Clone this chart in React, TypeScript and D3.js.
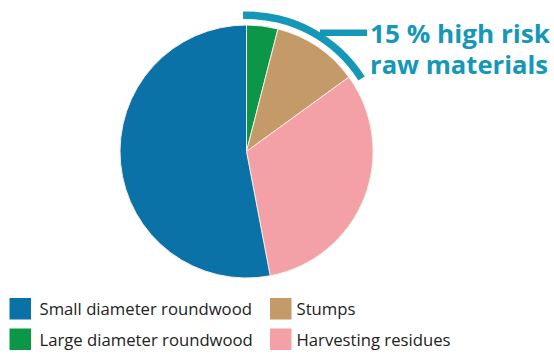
import React from "react";
import * as d3 from "d3";

const categories = ["Large diameter roundwood", "Stumps", "Harvesting residues", "Small diameter roundwood"];
const values = [4, 11, 32, 53];
const colors = ["#0b9747", "#c49a69", "#f3a0a6", "#0a72a6"];
const legendOrder = ["Small diameter roundwood", "Large diameter roundwood", "Stumps", "Harvesting residues"];
const highlightShare = 15;
const calloutLines = ["15 % high risk", "raw materials"];
const teal = "#1597b7";

export default function App() {
  const W = 554, H = 354;
  const cx = 246.5, cy = 151.5, r = 126.5;
  const pie = d3.pie<number>().sort(null).value((d) => d);
  const arcs = pie(values);
  const arcGen = d3.arc<d3.PieArcDatum<number>>().innerRadius(0).outerRadius(r);
  const total = d3.sum(values);
  const ang = d3.scaleLinear().domain([0, total]).range([0, 2 * Math.PI]);
  const hl = d3.arc()({
    innerRadius: r + 6,
    outerRadius: r + 13.5,
    startAngle: ang(-0.4),
    endAngle: ang(highlightShare + 1),
  } as any) as string;
  const colorOf = (c: string) => colors[categories.indexOf(c)];
  const legendPos = [
    { x: 9.5, y: 298, tx: 30 },
    { x: 9.5, y: 328.5, tx: 30 },
    { x: 270, y: 298, tx: 26.5 },
    { x: 270, y: 328.5, tx: 26.5 },
  ];
  return (
    <svg width={W} height={H} style={{ position: "absolute", left: 0, top: 0, background: "#fff" }}>
      <g transform={`translate(${cx},${cy})`}>
        {arcs.map((a, i) => (
          <path key={i} d={arcGen(a) as string} fill={colors[i]} stroke="#f6ece6" strokeWidth={1} />
        ))}
        <path d={hl} fill={teal} />
      </g>
      <line x1={320} x2={367} y1={32.8} y2={32.8} stroke={teal} strokeWidth={6.5} />
      {calloutLines.map((t, i) => (
        <text
          key={t}
          x={370}
          y={42.5 + i * 31.5}
          fill={teal}
          fontFamily="'Open Sans', sans-serif"
          fontWeight={700}
          fontSize={24.5}
          textLength={i === 0 ? 180 : 178}
          lengthAdjust="spacingAndGlyphs"
        >
          {t}
        </text>
      ))}
      {legendOrder.map((c, i) => (
        <g key={c} transform={`translate(${legendPos[i].x},${legendPos[i].y})`}>
          <rect width={21.5} height={21.5} fill={colorOf(c)} />
          <text x={legendPos[i].tx} y={17} fill="#222" fontFamily="'Open Sans', sans-serif" fontSize={16.7}>
            {c}
          </text>
        </g>
      ))}
    </svg>
  );
}
